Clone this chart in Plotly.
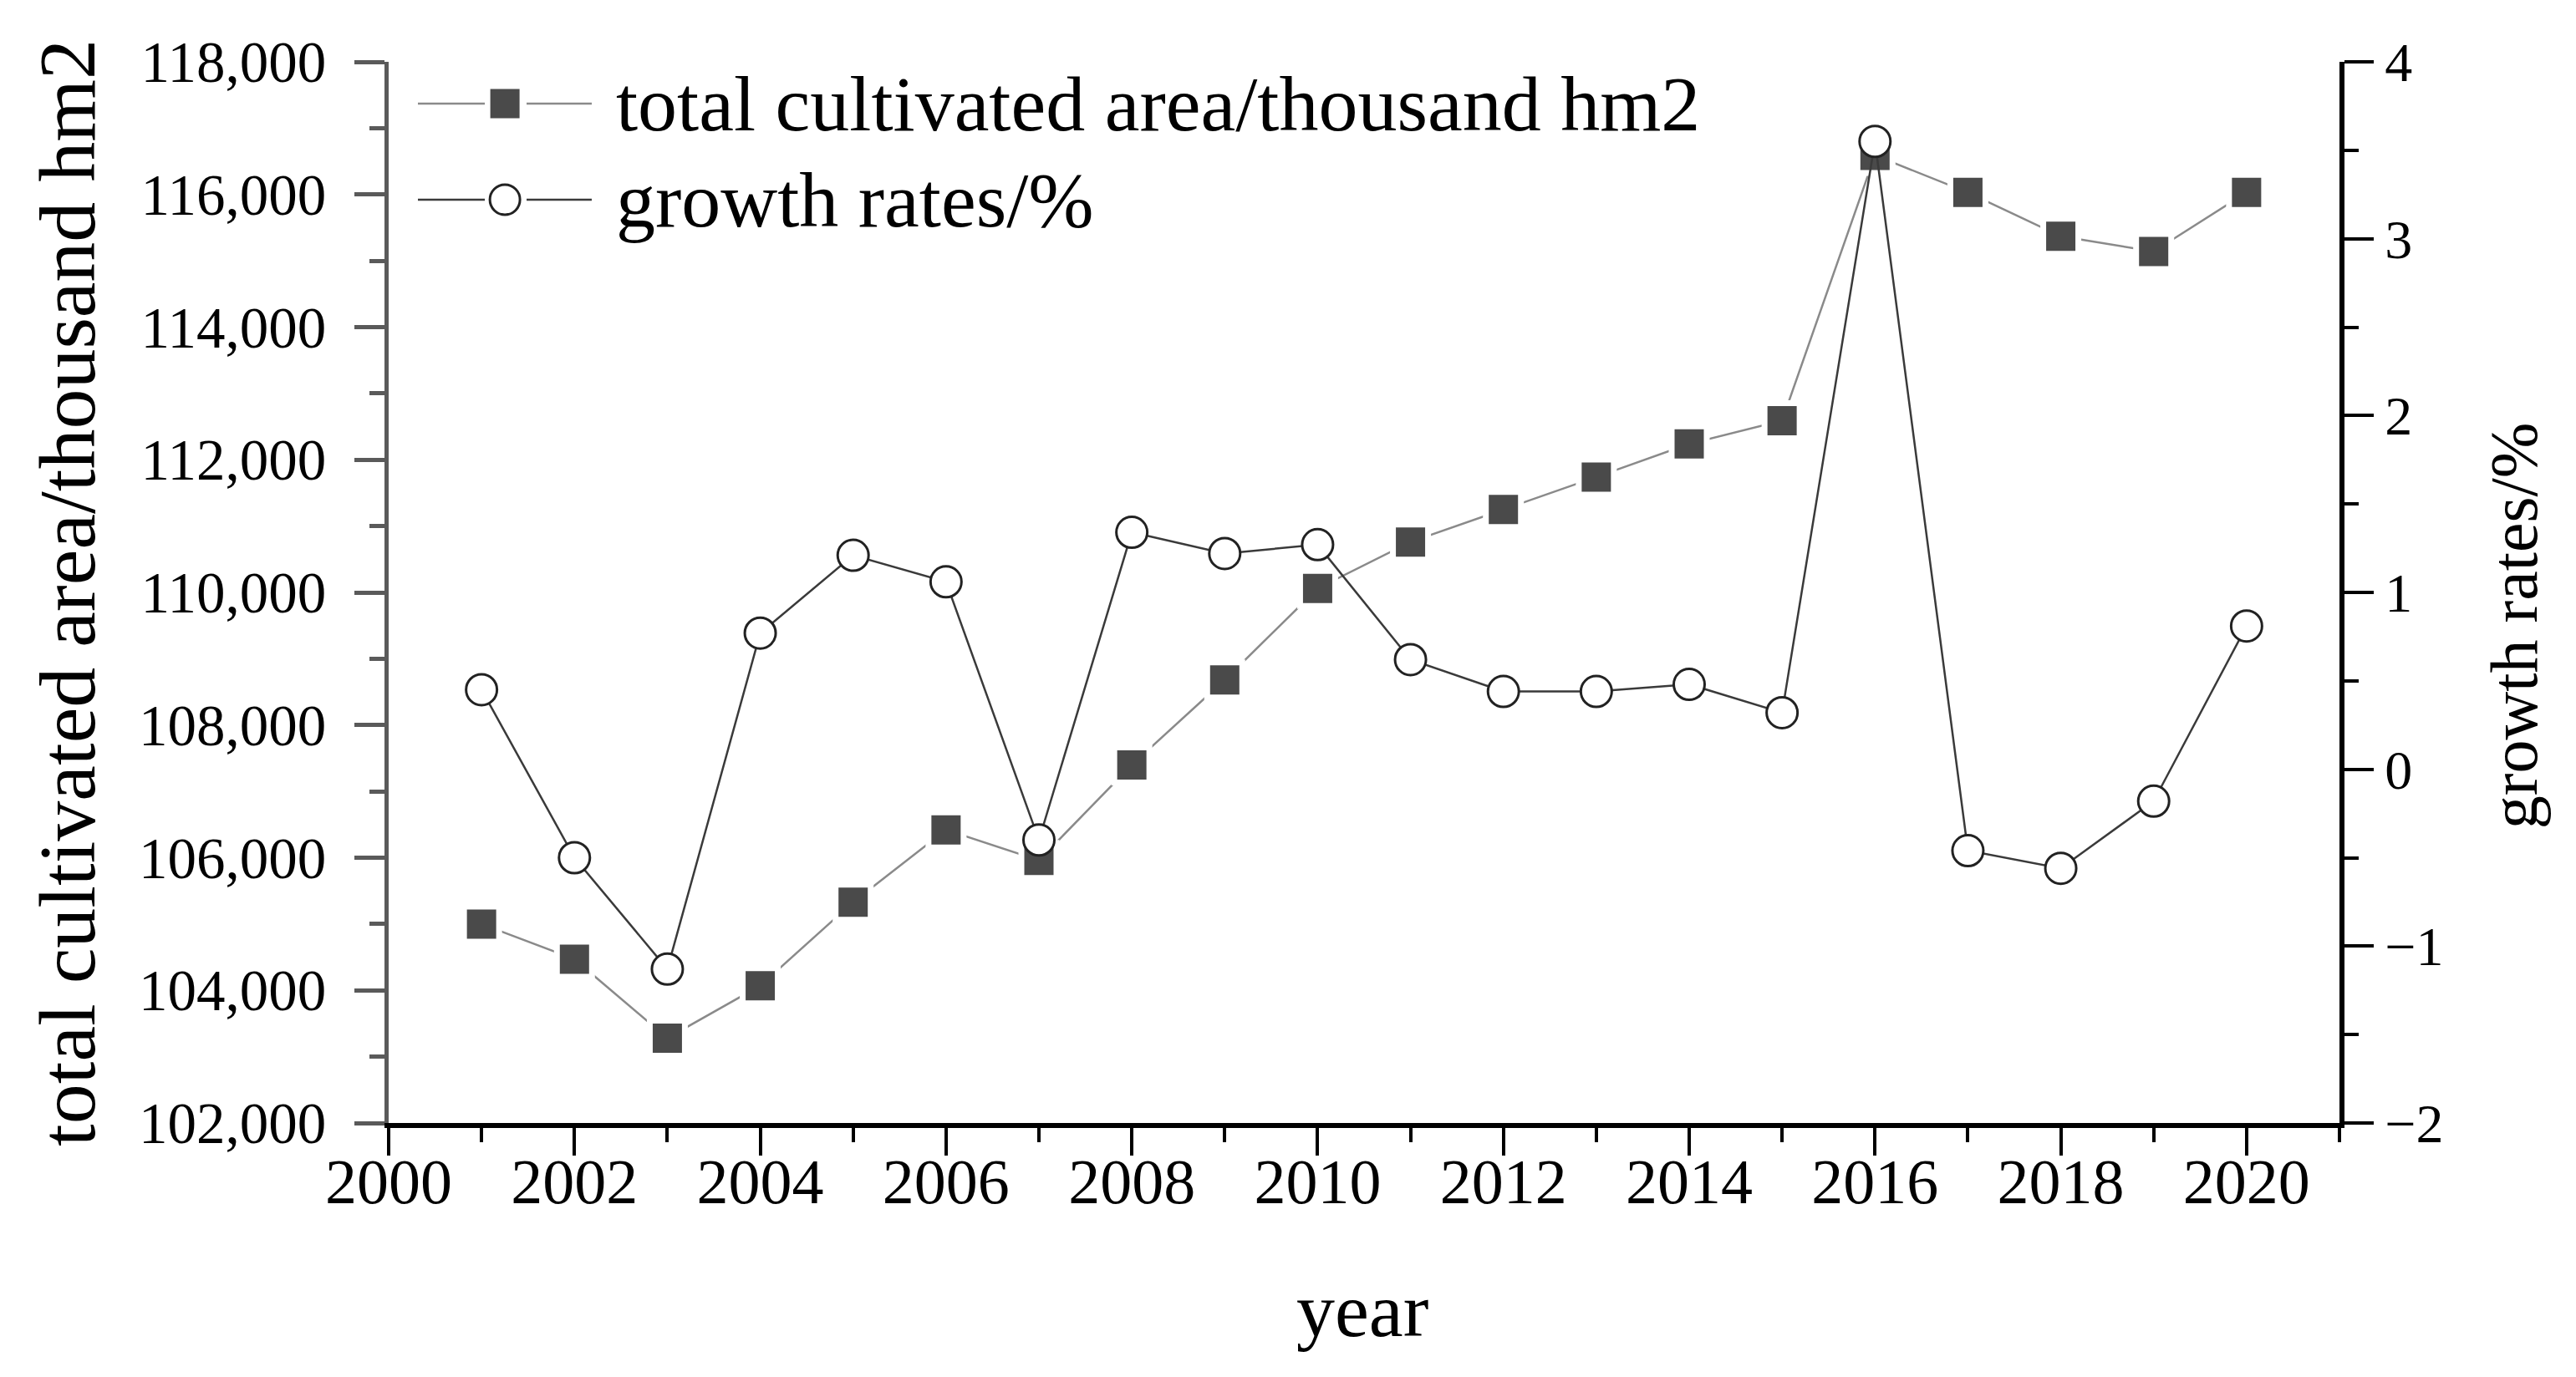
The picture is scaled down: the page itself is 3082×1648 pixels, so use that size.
import plotly.graph_objects as go

years = list(range(2001, 2021))
total_area = [105000, 104470, 103280, 104070, 105330, 106420, 105960, 107400, 108680, 110060,
              110760, 111250, 111740, 112240, 112590, 116590, 116030, 115370, 115140, 116030]
growth = [0.45, -0.50, -1.13, 0.77, 1.21, 1.06, -0.40, 1.34, 1.22, 1.27,
          0.62, 0.44, 0.44, 0.48, 0.32, 3.55, -0.46, -0.56, -0.18, 0.81]

name_area = "total cultivated area/thousand hm2"
name_growth = "growth rates/%"
x_title = "year"

FONT = "Liberation Serif, Times New Roman, serif"
SQ_COLOR = "#4a4a4a"
SQ_LINE = "#8a8a8a"
CI_LINE = "#3a3a3a"
CI_EDGE = "#222222"

fig = go.Figure()
fig.add_trace(go.Scatter(
    x=years, y=total_area, name=name_area, mode="lines+markers",
    line=dict(color=SQ_LINE, width=2.5),
    marker=dict(symbol="square", size=42, color=SQ_COLOR, line=dict(color="white", width=7)),
    yaxis="y", showlegend=False))
fig.add_trace(go.Scatter(
    x=years, y=growth, name=name_growth, mode="lines+markers",
    line=dict(color=CI_LINE, width=2.5),
    marker=dict(symbol="circle", size=37, color="white", line=dict(color=CI_EDGE, width=3)),
    yaxis="y2", showlegend=False))

# plot area in pixels: x 457..2791, y 66..1336
shapes = []
annotations = []
legend_rows = [
    (0.9606, name_area, SQ_LINE, "square"),
    (0.8701, name_growth, CI_LINE, "circle"),
]
for yrow, label, lcol, sym in legend_rows:
    for xa, xb in [(0.0150, 0.0493), (0.0707, 0.1041)]:
        shapes.append(dict(type="line", xref="paper", yref="paper", x0=xa, x1=xb, y0=yrow, y1=yrow,
                           line=dict(color=lcol, width=2.5)))
    if sym == "square":
        shapes.append(dict(type="rect", xref="paper", yref="paper", xsizemode="pixel", ysizemode="pixel",
                           xanchor=0.0596, yanchor=yrow, x0=-17.5, x1=17.5, y0=-17.5, y1=17.5,
                           fillcolor=SQ_COLOR, line=dict(width=0)))
    else:
        shapes.append(dict(type="circle", xref="paper", yref="paper", xsizemode="pixel", ysizemode="pixel",
                           xanchor=0.0596, yanchor=yrow, x0=-18, x1=18, y0=-18, y1=18,
                           fillcolor="white", line=dict(color=CI_EDGE, width=3)))
    annotations.append(dict(text=label, xref="paper", yref="paper", x=0.1157, y=yrow,
                            xanchor="left", yanchor="middle", showarrow=False,
                            font=dict(size=94, family=FONT, color="black")))

annotations.append(dict(text=name_area, xref="paper", yref="paper", x=-0.165, y=0.5,
                        xanchor="center", yanchor="middle", textangle=-90, showarrow=False,
                        font=dict(size=96, family=FONT, color="black")))
annotations.append(dict(text=name_growth, xref="paper", yref="paper", x=1.0896, y=0.4685,
                        xanchor="center", yanchor="middle", textangle=-90, showarrow=False,
                        font=dict(size=80, family=FONT, color="black")))
annotations.append(dict(text=x_title, xref="paper", yref="paper", x=0.4991, y=-0.176,
                        xanchor="center", yanchor="middle", showarrow=False,
                        font=dict(size=92, family=FONT, color="black")))

fig.update_layout(
    width=3082, height=1648,
    margin=dict(l=457, r=291, t=66, b=312),
    paper_bgcolor="white", plot_bgcolor="white",
    font=dict(family=FONT, color="black"),
    showlegend=False,
    shapes=shapes, annotations=annotations,
    xaxis=dict(range=[2000, 2021], dtick=2, tick0=2000, showgrid=False, zeroline=False,
               showline=True, linecolor="black", linewidth=6,
               ticks="outside", ticklen=33, tickwidth=4, tickcolor="black",
               minor=dict(dtick=1, ticklen=17, tickwidth=4, tickcolor="black", ticks="outside", showgrid=False),
               tickfont=dict(size=76, family=FONT), ticklabelstandoff=-34),
    yaxis=dict(range=[102000, 118000], dtick=2000, tick0=102000, tickformat=",d",
               showgrid=False, zeroline=False,
               showline=True, linecolor="#5a5a5a", linewidth=5,
               ticks="outside", ticklen=36, tickwidth=5, tickcolor="#5a5a5a",
               minor=dict(dtick=1000, ticklen=18, tickwidth=5, tickcolor="#5a5a5a", ticks="outside", showgrid=False),
               tickfont=dict(size=69, family=FONT), ticklabelstandoff=20),
    yaxis2=dict(range=[-2, 4], dtick=1, tick0=-2, overlaying="y", side="right",
                showgrid=False, zeroline=False,
                showline=True, linecolor="black", linewidth=6,
                ticks="outside", ticklen=35, tickwidth=4, tickcolor="black",
                minor=dict(dtick=0.5, ticklen=17, tickwidth=4, tickcolor="black", ticks="outside", showgrid=False),
                tickfont=dict(size=66, family=FONT)),
)

fig.write_html("out.html")
